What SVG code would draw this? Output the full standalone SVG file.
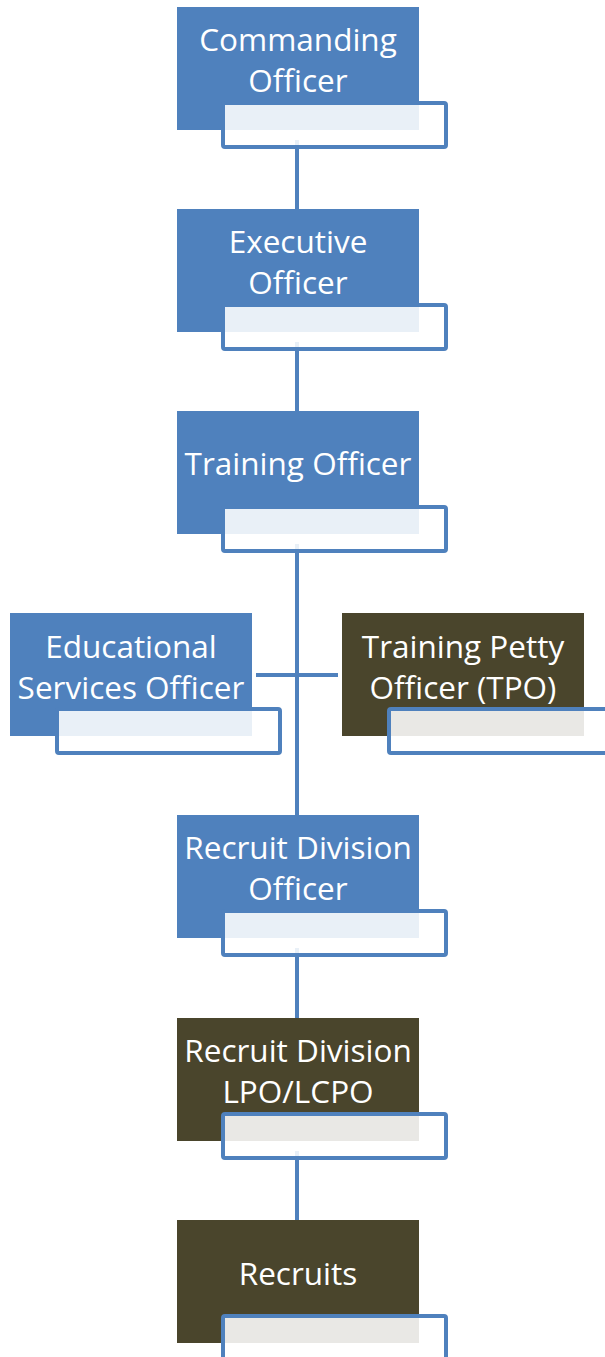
<svg xmlns="http://www.w3.org/2000/svg" width="605" height="1357" viewBox="0 0 605 1357">
<style>
.blue{fill:#4f81bd}
.brown{fill:#4a452c}
.sub{fill:#ffffff;fill-opacity:0.88;stroke:#4f81bd;stroke-width:4}
.t{fill:#ffffff;font-family:"Open Sans","Liberation Sans",sans-serif;font-size:31.5px;text-anchor:middle}
.c{stroke:#4f81bd;stroke-width:4;fill:none}
</style>
<rect width="605" height="1357" fill="#ffffff"/>
<g id="connectors">
<line class="c" x1="297" y1="140" x2="297" y2="209"/>
<line class="c" x1="297" y1="342" x2="297" y2="411"/>
<line class="c" x1="297" y1="544" x2="297" y2="815"/>
<line class="c" x1="256" y1="675" x2="338" y2="675"/>
<line class="c" x1="297" y1="948" x2="297" y2="1018"/>
<line class="c" x1="297" y1="1151" x2="297" y2="1220"/>
</g>
<g id="commanding-officer">
<rect class="blue" x="177" y="7" width="242" height="123"/>
<rect class="sub" x="223" y="103" width="223" height="44" rx="2"/>
<text class="t" x="298" y="51">Commanding</text>
<text class="t" x="298" y="92">Officer</text>
</g>
<g id="executive-officer">
<rect class="blue" x="177" y="209" width="242" height="123"/>
<rect class="sub" x="223" y="305" width="223" height="44" rx="2"/>
<text class="t" x="298" y="253">Executive</text>
<text class="t" x="298" y="294">Officer</text>
</g>
<g id="training-officer">
<rect class="blue" x="177" y="411" width="242" height="123"/>
<rect class="sub" x="223" y="507" width="223" height="44" rx="2"/>
<text class="t" x="298" y="475">Training Officer</text>
</g>
<g id="educational-services-officer">
<rect class="blue" x="10" y="613" width="242" height="123"/>
<rect class="sub" x="57" y="709" width="223" height="44" rx="2"/>
<text class="t" x="131" y="658">Educational</text>
<text class="t" x="131" y="699">Services Officer</text>
</g>
<g id="training-petty-officer">
<rect class="brown" x="342" y="613" width="242" height="123"/>
<rect class="sub" x="389" y="709" width="223" height="44" rx="2"/>
<text class="t" x="463" y="658">Training Petty</text>
<text class="t" x="463" y="699">Officer (TPO)</text>
</g>
<g id="recruit-division-officer">
<rect class="blue" x="177" y="815" width="242" height="123"/>
<rect class="sub" x="223" y="911" width="223" height="44" rx="2"/>
<text class="t" x="298" y="859">Recruit Division</text>
<text class="t" x="298" y="900">Officer</text>
</g>
<g id="recruit-division-lpo">
<rect class="brown" x="177" y="1018" width="242" height="123"/>
<rect class="sub" x="223" y="1114" width="223" height="44" rx="2"/>
<text class="t" x="298" y="1062">Recruit Division</text>
<text class="t" x="298" y="1103">LPO/LCPO</text>
</g>
<g id="recruits">
<rect class="brown" x="177" y="1220" width="242" height="123"/>
<rect class="sub" x="223" y="1316" width="223" height="44" rx="2"/>
<text class="t" x="298" y="1285">Recruits</text>
</g>
</svg>
